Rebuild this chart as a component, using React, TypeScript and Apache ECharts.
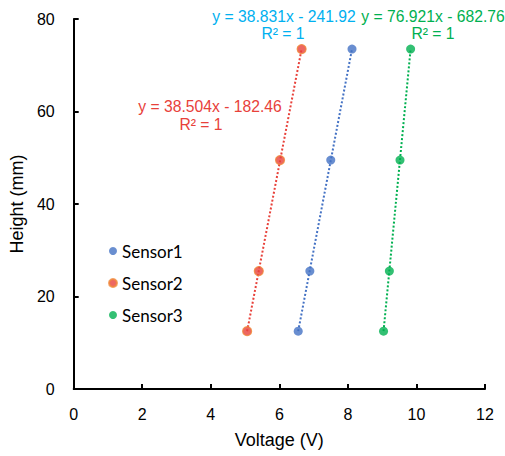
import React, { useEffect, useRef } from "react";
import * as echarts from "echarts";

const xTicks = [0, 2, 4, 6, 8, 10, 12];
const yTicks = [0, 20, 40, 60, 80];
const sensorNames = ["Sensor1", "Sensor2", "Sensor3"];
const heights = [12.5, 25.5, 49.5, 73.5];
const sensor1V = [6.55, 6.89, 7.5, 8.12];
const sensor2V = [5.06, 5.4, 6.02, 6.65];
const sensor3V = [9.04, 9.21, 9.52, 9.83];
const colors = ["#4472C4", "#E8413A", "#00B050"];
const labelColors = ["#00B0F0", "#E8413A", "#00B050"];
const equations = ["y = 38.831x - 241.92", "y = 38.504x - 182.46", "y = 76.921x - 682.76"];
const r2 = "R² = 1";

export default function App() {
  const ref = useRef<HTMLDivElement>(null);
  useEffect(() => {
    const chart = echarts.init(ref.current!, undefined, { renderer: "svg" });
    const volts = [sensor1V, sensor2V, sensor3V];
    const scatter = volts.map((v, i) => ({
      name: sensorNames[i],
      type: "scatter",
      symbol: "circle",
      symbolSize: 9,
      itemStyle: {
        color: colors[i],
        borderColor: i === 1 ? "#F08A3A" : colors[i],
        borderWidth: i === 1 ? 1.2 : 0,
      },
      data: v.map((x, k) => [x, heights[k]]),
      z: 3,
    }));
    const trend = volts.map((v, i) => ({
      name: sensorNames[i] + " trend",
      type: "line",
      symbol: "none",
      lineStyle: { color: colors[i], width: 2, type: [2, 2] },
      data: [[v[0], heights[0]], [v[3], heights[3]]],
      z: 2,
    }));
    const font = "'Liberation Sans', Arial, sans-serif";
    const txt = (s: string, x: number, y: number, c: string) => ({
      type: "text",
      x,
      y,
      style: { text: s, fill: c, font: `15.7px ${font}`, textAlign: "center", textVerticalAlign: "middle" },
    });
    chart.setOption({
      animation: false,
      grid: { left: 73, right: 20, top: 19, bottom: 67 },
      legend: {
        data: sensorNames,
        orient: "vertical",
        left: 103,
        top: 237,
        itemWidth: 8,
        itemHeight: 8,
        itemGap: 14,
        textStyle: { fontFamily: "Lato, 'Open Sans', sans-serif", fontSize: 17, color: "#000", lineHeight: 18 },
      },
      xAxis: {
        type: "value",
        min: xTicks[0],
        max: xTicks[xTicks.length - 1],
        interval: 2,
        name: "Voltage (V)",
        nameLocation: "middle",
        nameGap: 42,
        nameTextStyle: { fontFamily: font, fontSize: 18, color: "#000" },
        axisLine: { lineStyle: { color: "#000", width: 2 } },
        axisTick: { inside: true, length: 5, lineStyle: { color: "#000", width: 2 } },
        axisLabel: { margin: 17, fontFamily: font, fontSize: 16, color: "#000" },
        splitLine: { show: false },
      },
      yAxis: {
        type: "value",
        min: yTicks[0],
        max: yTicks[yTicks.length - 1],
        interval: 20,
        name: "Height (mm)",
        nameLocation: "middle",
        nameGap: 40,
        nameTextStyle: { fontFamily: font, fontSize: 18, color: "#000" },
        axisLine: { show: true, lineStyle: { color: "#000", width: 2 } },
        axisTick: { show: true, inside: true, length: 5, lineStyle: { color: "#000", width: 2 } },
        axisLabel: { margin: 19, fontFamily: font, fontSize: 16, color: "#000" },
        splitLine: { show: false },
      },
      graphic: [
        txt(equations[0], 284, 16, labelColors[0]),
        txt(r2, 283, 33, labelColors[0]),
        txt(equations[2], 433, 16, labelColors[2]),
        txt(r2, 433, 33, labelColors[2]),
        txt(equations[1], 210, 106, labelColors[1]),
        txt(r2, 201, 124, labelColors[1]),
      ],
      series: [...trend, ...scatter],
    });
    return () => chart.dispose();
  }, []);
  return <div ref={ref} style={{ width: 505, height: 456, position: "absolute", left: 0, top: 0 }} />;
}
